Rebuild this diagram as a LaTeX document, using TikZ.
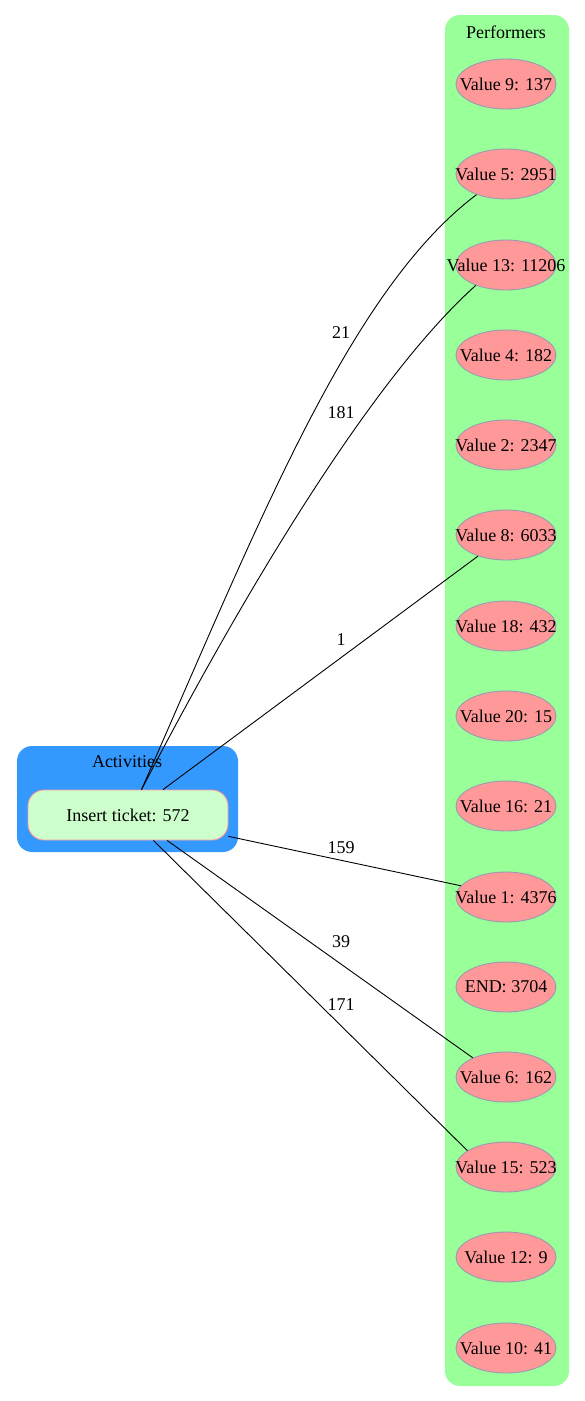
\documentclass[tikz,border=0pt]{standalone}
\usepackage{fontspec}
\setmainfont{Liberation Serif}
\usetikzlibrary{shapes.geometric}
\definecolor{perfbg}{HTML}{99FF99}
\definecolor{actbg}{HTML}{3399FF}
\definecolor{valfill}{HTML}{FF9999}
\definecolor{valline}{HTML}{9A9AB0}
\definecolor{actfill}{HTML}{CCFFCC}
\definecolor{actline}{HTML}{FF9999}
\newcommand{\fixw}[1]{\makebox[0pt]{#1}}
\tikzset{
  cluster/.style={rounded corners=15pt, draw=none},
  valnode/.style={ellipse, fill=valfill, draw=valline, line width=0.9pt,
    minimum width=100pt, minimum height=50pt, inner sep=0pt, font=\fontsize{18}{20}\selectfont},
  actnode/.style={rectangle, rounded corners=16pt, fill=actfill, draw=actline, line width=0.9pt,
    minimum width=200pt, minimum height=50pt, inner sep=0pt, font=\fontsize{18}{20}\selectfont},
  title/.style={font=\fontsize{18}{20}\selectfont, inner sep=0pt},
  elabel/.style={font=\fontsize{18}{20}\selectfont, inner sep=0pt},
  link/.style={line width=0.9pt, black}
}
\begin{document}
\begin{tikzpicture}[x=1pt,y=-1pt]
\useasboundingbox (0,0) rectangle (585,1401);
% clusters
\fill[cluster, perfbg] (445,15) rectangle (569,1386);
\fill[cluster, actbg] (17,746) rectangle (238,852);
\node[title] (perftitle) at (506,32) {Performers};
\node[title] (acttitle) at (127,762) {Activities};
% performer values
\node[valnode] (v9)  at (506,84)   {\fixw{Value 9: 137}};
\node[valnode] (v5)  at (506,174)  {\fixw{Value 5: 2951}};
\node[valnode] (v13) at (506,265)  {\fixw{Value 13: 11206}};
\node[valnode] (v4)  at (506,355)  {\fixw{Value 4: 182}};
\node[valnode] (v2)  at (506,445)  {\fixw{Value 2: 2347}};
\node[valnode] (v8)  at (506,535)  {\fixw{Value 8: 6033}};
\node[valnode] (v18) at (506,626)  {\fixw{Value 18: 432}};
\node[valnode] (v20) at (506,716)  {\fixw{Value 20: 15}};
\node[valnode] (v16) at (506,806)  {\fixw{Value 16: 21}};
\node[valnode] (v1)  at (506,897)  {\fixw{Value 1: 4376}};
\node[valnode] (vend) at (506,987) {\fixw{END: 3704}};
\node[valnode] (v6)  at (506,1077) {\fixw{Value 6: 162}};
\node[valnode] (v15) at (506,1167) {\fixw{Value 15: 523}};
\node[valnode] (v12) at (506,1257) {\fixw{Value 12: 9}};
\node[valnode] (v10) at (506,1348) {\fixw{Value 10: 41}};
% activity
\node[actnode] (ins) at (128,815) {Insert ticket: 572};
% connectors
\draw[link] (ins.62) .. controls (260,520) and (350,290) .. (v5.215);
\draw[link] (ins.62) .. controls (240,600) and (370,380) .. (v13.214);
\draw[link] (ins.36) -- (v8.217);
\draw[link] (ins.-12) -- (v1.166);
\draw[link] (ins.-33) -- (v6.150);
\draw[link] (ins.-45) -- (v15.157);
% connector labels
\node[elabel] (l21)  at (341,333)  {21};
\node[elabel] (l181) at (341,413)  {181};
\node[elabel] (l1)   at (341,640)  {1};
\node[elabel] (l159) at (341,848)  {159};
\node[elabel] (l39)  at (341,942)  {39};
\node[elabel] (l171) at (341,1005) {171};
\end{tikzpicture}
\end{document}
